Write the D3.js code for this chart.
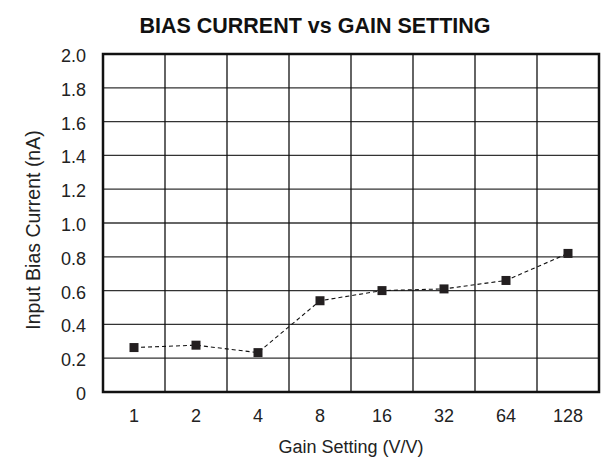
<!DOCTYPE html>
<html><head><meta charset="utf-8">
<script src="https://cdn.jsdelivr.net/npm/d3@7"></script>
<style>body{margin:0;background:#fff}svg{display:block}text{font-family:"Liberation Sans",Arial,Helvetica,sans-serif}</style>
</head><body><svg id="c" width="603" height="458"></svg>
<script>
const categories = ["1","2","4","8","16","32","64","128"];
const values = [0.263, 0.277, 0.233, 0.54, 0.60, 0.61, 0.66, 0.82];
const yTicks = [0,0.2,0.4,0.6,0.8,1.0,1.2,1.4,1.6,1.8,2.0];

const svg = d3.select("#c");
const L=103,R=599,T=54,B=392;
const x = d3.scaleBand().domain(categories).range([L,R]);
const y = d3.scaleLinear().domain([0,2]).range([B,T]);

// grid
svg.append("g").selectAll("line").data(yTicks.slice(1,-1)).join("line")
 .attr("x1",L).attr("x2",R).attr("y1",d=>y(d)).attr("y2",d=>y(d))
 .attr("stroke","#333").attr("stroke-width",1.3);
svg.append("g").selectAll("line").data(categories.slice(1)).join("line")
 .attr("x1",d=>x(d)).attr("x2",d=>x(d)).attr("y1",T).attr("y2",B)
 .attr("stroke","#111").attr("stroke-width",1.3);
svg.append("rect").attr("x",L).attr("y",T).attr("width",R-L).attr("height",B-T)
 .attr("fill","none").attr("stroke","#111").attr("stroke-width",2.5);

// axes labels
const yAxis = d3.axisLeft(y).tickValues(yTicks).tickSize(0).tickPadding(17)
 .tickFormat(d=>d===0?"0":d3.format(".1f")(d));
const gy = svg.append("g").attr("transform",`translate(${L},0)`).call(yAxis);
gy.select(".domain").remove();
gy.selectAll("text").attr("font-size",18).attr("dy","0.42em").attr("fill","#222").attr("font-family","Liberation Sans, Arial, sans-serif");

const xAxis = d3.axisBottom(x).tickSize(0).tickPadding(0);
const gx = svg.append("g").attr("transform",`translate(0,${B})`).call(xAxis);
gx.select(".domain").remove();
gx.selectAll("text").attr("font-size",18).attr("y",0).attr("dy",0).attr("transform","translate(0,30)").attr("fill","#222").attr("font-family","Liberation Sans, Arial, sans-serif");

// line
const data = categories.map((c,i)=>({c,v:values[i]}));
const line = d3.line().x(d=>x(d.c)+x.bandwidth()/2).y(d=>y(d.v));
svg.append("path").datum(data).attr("d",line).attr("fill","none")
 .attr("stroke","#111").attr("stroke-width",1.1).attr("stroke-dasharray","4,3");
const s=9;
svg.append("g").selectAll("rect").data(data).join("rect")
 .attr("x",d=>x(d.c)+x.bandwidth()/2-s/2).attr("y",d=>y(d.v)-s/2)
 .attr("width",s).attr("height",s).attr("fill","#231f20");

// titles
svg.append("text").attr("x",315).attr("y",33).attr("text-anchor","middle")
 .attr("font-size",21.5).attr("font-weight","bold").attr("fill","#111").text("BIAS CURRENT vs GAIN SETTING");
svg.append("text").attr("x",351).attr("y",453).attr("text-anchor","middle")
 .attr("font-size",18).attr("fill","#222").text("Gain Setting (V/V)");
svg.append("text").attr("transform","translate(40,230) rotate(-90)").attr("text-anchor","middle")
 .attr("font-size",19.5).attr("fill","#222").text("Input Bias Current (nA)");
</script></body></html>
